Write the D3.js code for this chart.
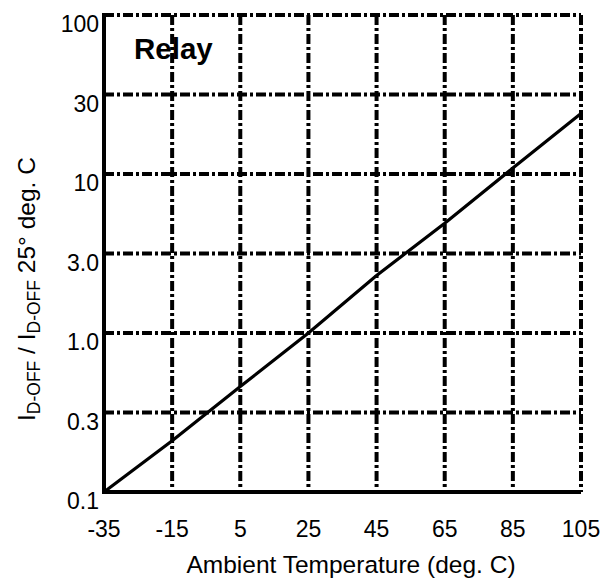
<!DOCTYPE html>
<html>
<head>
<meta charset="utf-8">
<script src="https://cdn.jsdelivr.net/npm/d3@7/dist/d3.min.js"></script>
<style>
  body { margin: 0; background: #fff; }
  svg { display: block; }
  text { font-family: "Liberation Sans", Arial, Helvetica, sans-serif; fill: #000; }
</style>
</head>
<body>
<svg id="chart" width="611" height="580"></svg>
<script>
// Data
const temperatures = [-35, -15, 5, 25, 45, 65, 85, 105];
const ratioValues  = [0.1, 0.21, 0.46, 1.0, 2.3, 4.9, 10.9, 24];
const xTickValues  = [-35, -15, 5, 25, 45, 65, 85, 105];
const xTickLabels  = ["-35", "-15", "5", "25", "45", "65", "85", "105"];
const yTickValues  = [0.1, 0.316, 1, 3.16, 10, 31.6, 100];
const yTickLabels  = ["0.1", "0.3", "1.0", "3.0", "10", "30", "100"];
const panelLabel   = "Relay";
const xTitle       = "Ambient Temperature (deg. C)";

const FONT = "Liberation Sans, Arial, Helvetica, sans-serif";
const svg = d3.select("#chart");
const pLeft = 104, pRight = 581, pTop = 15, pBottom = 492;

const x = d3.scaleLinear().domain([-35, 105]).range([pLeft, pRight]);
const y = d3.scaleLog().domain([0.1, 100]).range([pBottom, pTop]);

const dash = "10,3,3,3";

// vertical grid lines (including right border)
svg.append("g").selectAll("line")
  .data(xTickValues.slice(1))
  .join("line")
  .attr("x1", d => x(d)).attr("x2", d => x(d))
  .attr("y1", pTop).attr("y2", pBottom)
  .attr("stroke", "#000").attr("stroke-width", 4)
  .attr("stroke-dasharray", dash);

// horizontal grid lines (including top border)
svg.append("g").selectAll("line")
  .data(yTickValues.slice(1))
  .join("line")
  .attr("x1", pLeft).attr("x2", pRight)
  .attr("y1", d => y(d)).attr("y2", d => y(d))
  .attr("stroke", "#000").attr("stroke-width", 4)
  .attr("stroke-dasharray", dash);

// data line
const line = d3.line().x((d, i) => x(temperatures[i])).y(d => y(d));
svg.append("path")
  .datum(ratioValues)
  .attr("d", line)
  .attr("fill", "none")
  .attr("stroke", "#000")
  .attr("stroke-width", 3.2);

// solid left & bottom axes
svg.append("line").attr("x1", pLeft).attr("x2", pLeft).attr("y1", pTop - 2).attr("y2", pBottom + 2)
  .attr("stroke", "#000").attr("stroke-width", 4);
svg.append("line").attr("x1", pLeft - 2).attr("x2", pRight).attr("y1", pBottom).attr("y2", pBottom)
  .attr("stroke", "#000").attr("stroke-width", 4);

// y tick labels
svg.append("g").selectAll("text")
  .data(yTickValues)
  .join("text")
  .attr("x", 99)
  .attr("y", d => y(d) + 17)
  .attr("text-anchor", "end")
  .attr("font-family", FONT)
  .attr("font-size", 23)
  .text((d, i) => yTickLabels[i]);

// x tick labels
svg.append("g").selectAll("text")
  .data(xTickValues)
  .join("text")
  .attr("x", d => x(d))
  .attr("y", 537)
  .attr("text-anchor", "middle")
  .attr("font-family", FONT)
  .attr("font-size", 23)
  .text((d, i) => xTickLabels[i]);

// x title
svg.append("text")
  .attr("x", 351).attr("y", 573)
  .attr("text-anchor", "middle")
  .attr("font-family", FONT)
  .attr("font-size", 24.5)
  .text(xTitle);

// y title
const yt = svg.append("text")
  .attr("transform", "translate(35,421) rotate(-90)")
  .attr("font-family", FONT)
  .attr("font-size", 24.5);
yt.append("tspan").text("I");
yt.append("tspan").attr("font-size", 17.5).attr("dy", 5).text("D-OFF");
yt.append("tspan").attr("dy", -5).text(" / I");
yt.append("tspan").attr("font-size", 17.5).attr("dy", 5).text("D-OFF");
yt.append("tspan").attr("dy", -5).text(" 25° deg. C");

// panel label
svg.append("text")
  .attr("x", 134).attr("y", 59)
  .attr("font-family", FONT)
  .attr("font-size", 29.5)
  .attr("font-weight", "bold")
  .text(panelLabel);
</script>
</body>
</html>
